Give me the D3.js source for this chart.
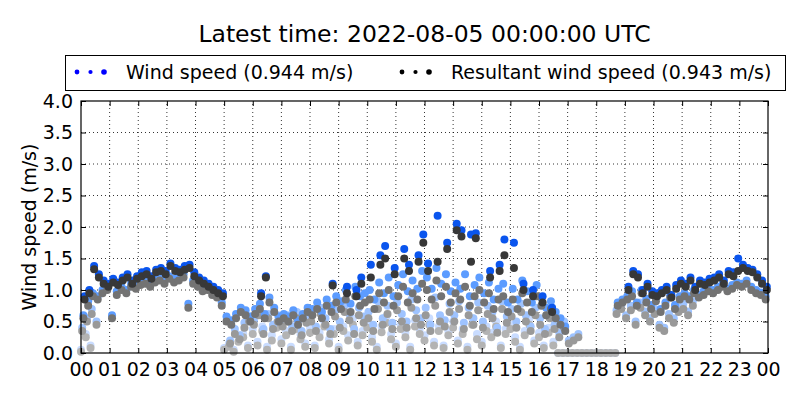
<!DOCTYPE html>
<html>
<head>
<meta charset="utf-8">
<script src="https://cdn.jsdelivr.net/npm/d3@7"></script>
<style>
  body { margin: 0; background: #fff; }
  text { font-family: "DejaVu Sans", sans-serif; fill: #000; }
</style>
</head>
<body>
<div id="chart"></div>
<script>
const _ = null;
const N = [_,_,_,_,_,_];   // an hour without data

// 10 minute slots, each day sampled at its own minute offset
const slotMinutes = d3.range(144).map(i => i * 10);
const dayOffsets = [0, 2.5, 5, 7.5];
const hourTicks = d3.range(0, 25);
const speedTicks = [0, 0.5, 1, 1.5, 2, 2.5, 3, 3.5, 4];

// one row per hour, six values each
// oldest day
const res1 = [].concat(
  [.02,.25,.08,_,_,_], N, N, N, N,
  [.05,.1,.02,.18,.25,.08], [.3,.12,.35,.05,.2,.4], [.15,.28,.05,.38,.22,.1],
  [.32,.08,.25,.42,.15,.3], [.05,.35,.2,.45,.12,.28], [.4,.18,.05,.33,.48,.22],
  [.1,.38,.25,.05,.42,.3], [.2,.45,.12,.35,.08,.28], [.4,.15,.3,.05,.45,.22],
  [.12,.35,.25,.42,.08,.3], [.38,.18,.05,.28,.45,.15], [.25,.08,.32,.12,0,0],
  [0,0,0,0,0,0], [0,0,0,0,0,_], N, N, N, N, N);
const wind1 = [].concat(
  [.05,.3,.12,_,_,_], N, N, N, N,
  [.08,.15,.05,.25,.3,.12], [.38,.18,.42,.1,.28,.48], [.22,.35,.1,.45,.3,.15],
  [.4,.12,.32,.5,.22,.38], [.1,.42,.28,.55,.18,.35], [.48,.25,.1,.42,.58,.3],
  [.15,.45,.32,.1,.52,.38], [.28,.55,.18,.42,.12,.35], [.5,.2,.38,.1,.55,.3],
  [.18,.42,.32,.5,.12,.38], [.45,.25,.1,.35,.55,.2], [.32,.12,.4,.18,0,0],
  [0,0,0,0,0,0], [0,0,0,0,0,_], N, N, N, N, N);

const res2 = [].concat(
  [.35,.5,.62,.45,_,_], N, N, N, N,
  [_,.15,.3,.22,.4,.5], [.45,.6,.3,.55,.38,.5], [.42,.5,.35,.55,.28,.48],
  [.5,.35,.62,.45,.3,.58], [.4,.65,.52,.3,.6,.48], [.55,.35,.7,.45,.62,.38],
  [.68,.5,.4,.72,.55,.45], [.6,.35,.75,.5,.42,.65], [.5,.7,.38,.6,.45,.68],
  [.4,.62,.55,.32,.7,.48], [.58,.4,.65,.5,.35,.6], [.45,.3,.55,.38,.25,.4],
  [.15,.2,.25,_,_,_], [_,_,_,_,.62,.7], [.55,.68,.45,.72,.6,.5],
  [.62,.4,.35,.55,.48,.65], [.7,.6,.75,_,_,_], N, N);
const wind2 = [].concat(
  [.4,.55,.7,.5,_,_], N, N, N, N,
  [_,.2,.38,.28,.48,.58], [.52,.7,.38,.62,.45,.6], [.5,.6,.42,.65,.35,.55],
  [.6,.42,.72,.55,.38,.68], [.5,.75,.62,.38,.72,.58], [.65,.45,.82,.55,.75,.48],
  [.8,.62,.5,.85,.68,.55], [.72,.45,.88,.6,.52,.78], [.6,.82,.48,.72,.55,.8],
  [.5,.75,.65,.4,.82,.58], [.7,.5,.78,.6,.42,.72], [.55,.38,.68,.45,.32,.5],
  [.2,.25,.3,_,_,_], [_,_,_,_,.68,.75], [.6,.75,.5,.8,.66,.55],
  [.7,.45,.4,.62,.55,.72], [.78,.66,.82,_,_,_], N, N);

const res3 = [].concat(
  [.55,.75,.9,.85,.95,1.0], [.55,.92,1.0,.95,1.05,1.02], [1.08,1.1,1.05,1.12,1.15,1.1],
  [1.18,1.12,1.15,1.2,.72,1.1], [1.05,.98,1.0,.92,.88,.75],
  [.5,.45,.55,.65,.6,.5], [.62,.7,.55,.8,.65,.5], [.55,.5,.6,.45,.55,.65],
  [.6,.7,.55,.75,.65,.8], [.7,.85,.65,.9,.75,.8], [.85,.7,.95,.8,1.0,.75],
  [.9,1.05,.8,.95,.85,1.1], [1.0,.85,1.15,.9,1.05,.8], [.95,.85,1.05,.75,.9,1.0],
  [.8,.95,.7,.85,.9,.65], [.85,.7,.95,.8,.65,.9], [.75,.6,.7,.55,.45,.35],
  N, [_,_,_,_,.75,.8], [.85,.9,.75,.95,.8,.7],
  [.82,.65,.75,.88,.7,.85], [.9,.85,.95,.88,.92,.98], [.95,1.0,1.05,.98,1.02,1.08],
  [1.05,1.1,1.0,.95,.92,.85]);
const wind3 = [].concat(
  [.6,.82,.95,.9,1.0,1.05], [.6,.98,1.05,1.0,1.1,1.08], [1.12,1.15,1.1,1.18,1.2,1.15],
  [1.22,1.18,1.2,1.25,.78,1.15], [1.1,1.02,1.05,.98,.92,.8],
  [.58,.52,.62,.72,.68,.58], [.7,.78,.62,.88,.72,.58], [.62,.58,.68,.52,.62,.72],
  [.7,.8,.65,.85,.75,.9], [.82,1.0,.78,1.05,.9,.95], [1.0,.85,1.12,.95,1.2,.9],
  [1.08,1.25,.98,1.15,1.02,1.3], [1.2,1.02,1.35,1.1,1.25,.98], [1.12,1.02,1.25,.9,1.08,1.2],
  [.95,1.12,.85,1.02,1.1,.8], [1.02,.85,1.15,.98,.8,1.08], [.88,.72,.82,.65,.55,.42],
  N, [_,_,_,_,.8,.85], [.9,.98,.8,1.0,.86,.76],
  [.88,.7,.8,.92,.76,.9], [.95,.9,1.0,.92,.98,1.02], [1.0,1.05,1.1,1.02,1.08,1.12],
  [1.1,1.15,1.05,1.0,.96,.9]);

// latest day
const res4 = [].concat(
  [.85,.95,1.33,1.2,1.1,1.05], [1.12,1.08,1.15,1.2,1.1,1.18], [1.22,1.25,1.18,1.28,1.3,1.25],
  [1.38,1.3,1.28,1.32,1.35,1.22], [1.15,1.1,1.05,1.0,.95,.9],
  N, [_,.9,1.2,_,_,_], N, [_,_,_,_,1.07,_],
  [_,.95,_,.9,1.1,_], [1.2,_,1.4,1.5,_,1.25], [_,1.5,1.3,_,1.45,1.75],
  [1.3,_,1.45,_,1.65,_], [1.95,1.85,_,1.45,1.82,_], [_,1.2,_,1.3,1.55,_],
  [1.35,_,1.0,_,.9,_], [.8,_,.65,_,_,_],
  N, N, [1.0,1.25,1.2,.95,1.05,.92],
  [.9,.95,1.0,.88,1.02,1.1], [1.05,1.15,1.0,1.1,1.08,1.12], [1.15,1.2,1.1,1.25,1.22,1.3],
  [1.35,1.3,1.28,1.2,1.1,1.0]);
const wind4 = [].concat(
  [.9,1.0,1.38,1.25,1.15,1.1], [1.18,1.12,1.2,1.25,1.15,1.22], [1.28,1.3,1.22,1.32,1.35,1.3],
  [1.42,1.35,1.32,1.38,1.4,1.28], [1.2,1.15,1.1,1.05,1.0,.95],
  N, [_,.95,1.22,_,_,_], N, [_,_,_,_,1.1,_],
  [_,1.05,_,1.0,1.2,_], [1.4,_,1.55,1.7,_,1.35], [_,1.65,1.4,_,1.55,1.88],
  [1.42,_,2.18,_,1.75,_], [2.05,1.95,_,1.88,1.9,_], [_,1.3,_,1.4,1.8,_],
  [1.75,_,1.1,_,1.0,_], [.9,_,.72,_,_,_],
  N, N, [1.05,1.3,1.25,1.0,1.1,.98],
  [.95,1.0,1.05,.92,1.08,1.15], [1.1,1.2,1.05,1.15,1.12,1.18], [1.2,1.25,1.15,1.3,1.28,1.5],
  [1.4,1.35,1.32,1.25,1.15,1.05]);

const windColors = ["#c9dcff", "#9ec3ff", "#5c9cff", "#0a55ee"];
const resColors = ["#b3b3b3", "#999999", "#737373", "#383838"];
const windDays = [wind1, wind2, wind3, wind4];
const resDays = [res1, res2, res3, res4];

const width = 800, height = 400;
const margin = { top: 101, right: 32, bottom: 47, left: 81 };

const svg = d3.select("#chart").append("svg")
    .attr("width", width)
    .attr("height", height)
    .style("background", "#fff");

const x = d3.scaleLinear().domain([0, 24]).range([margin.left, width - margin.right]);
const y = d3.scaleLinear().domain([0, 4]).range([height - margin.bottom, margin.top]);

// grid
svg.append("g").selectAll("line")
    .data(hourTicks.slice(1, -1))
    .enter().append("line")
    .attr("x1", d => x(d)).attr("x2", d => x(d))
    .attr("y1", y(0)).attr("y2", y(4))
    .attr("stroke", "#000").attr("stroke-width", 0.8)
    .attr("stroke-dasharray", "1,3");
svg.append("g").selectAll("line")
    .data(speedTicks.slice(1, -1))
    .enter().append("line")
    .attr("x1", x(0)).attr("x2", x(24))
    .attr("y1", d => y(d)).attr("y2", d => y(d))
    .attr("stroke", "#000").attr("stroke-width", 0.8)
    .attr("stroke-dasharray", "1,3");

// points: oldest day first, wind speed under resultant
const dots = svg.append("g");
for (let k = 0; k < 4; k++) {
    [[windDays[k], windColors[k]], [resDays[k], resColors[k]]].forEach(([vals, col]) => {
        const pts = slotMinutes
            .map((m, i) => ({ h: (m + dayOffsets[k]) / 60, v: vals[i] }))
            .filter(d => d.v !== null && d.v !== undefined);
        dots.append("g").selectAll("circle")
            .data(pts)
            .enter().append("circle")
            .attr("cx", d => x(d.h))
            .attr("cy", d => y(d.v))
            .attr("r", 4)
            .attr("fill", col);
    });
}

// axes, ticks pointing inward on all four sides
const xAxis = svg.append("g")
    .attr("transform", `translate(0,${y(0)})`)
    .call(d3.axisBottom(x).tickValues(hourTicks).tickSize(-5).tickPadding(10)
        .tickFormat(d => d3.format("02d")(d % 24)));
const yAxis = svg.append("g")
    .attr("transform", `translate(${x(0)},0)`)
    .call(d3.axisLeft(y).tickValues(speedTicks).tickSize(-5).tickPadding(8)
        .tickFormat(d3.format(".1f")));
svg.append("g")
    .attr("transform", `translate(0,${y(4)})`)
    .call(d3.axisTop(x).tickValues(hourTicks).tickSize(-5).tickFormat(""));
svg.append("g")
    .attr("transform", `translate(${x(24)},0)`)
    .call(d3.axisRight(y).tickValues(speedTicks).tickSize(-5).tickFormat(""));

svg.selectAll(".domain").remove();
svg.selectAll(".tick line").attr("stroke", "#000");
xAxis.selectAll("text").style("font-size", "19px").style("font-family", "DejaVu Sans");
yAxis.selectAll("text").style("font-size", "19px").style("font-family", "DejaVu Sans");

svg.append("rect")
    .attr("x", x(0)).attr("y", y(4))
    .attr("width", x(24) - x(0)).attr("height", y(0) - y(4))
    .attr("fill", "none").attr("stroke", "#000").attr("stroke-width", 1.2);

// title and axis label
svg.append("text")
    .attr("x", (x(0) + x(24)) / 2).attr("y", 42)
    .attr("text-anchor", "middle")
    .style("font-size", "23.5px")
    .text("Latest time: 2022-08-05 00:00:00 UTC");

svg.append("text")
    .attr("transform", `translate(36,${(y(0) + y(4)) / 2}) rotate(-90)`)
    .attr("text-anchor", "middle")
    .style("font-size", "19px")
    .text("Wind speed (m/s)");

// legend
const legend = svg.append("g");
legend.append("rect")
    .attr("x", 65.5).attr("y", 55.5).attr("width", 720).attr("height", 35)
    .attr("fill", "#fff").attr("stroke", "#000").attr("stroke-width", 1);

const legendItems = [
    { label: "Wind speed (0.944 m/s)", color: "#0000ff", x0: 77, tx: 126 },
    { label: "Resultant wind speed (0.943 m/s)", color: "#000", x0: 402, tx: 451 }
];
const legendSizes = [2.4, 2.1, 2.8];
legendItems.forEach(it => {
    legend.selectAll(null)
        .data(legendSizes)
        .enter().append("circle")
        .attr("cx", (d, i) => it.x0 + i * 13.5)
        .attr("cy", 72)
        .attr("r", d => d)
        .attr("fill", it.color);
    legend.append("text")
        .attr("x", it.tx).attr("y", 79)
        .style("font-size", "19px")
        .text(it.label);
});
</script>
</body>
</html>
